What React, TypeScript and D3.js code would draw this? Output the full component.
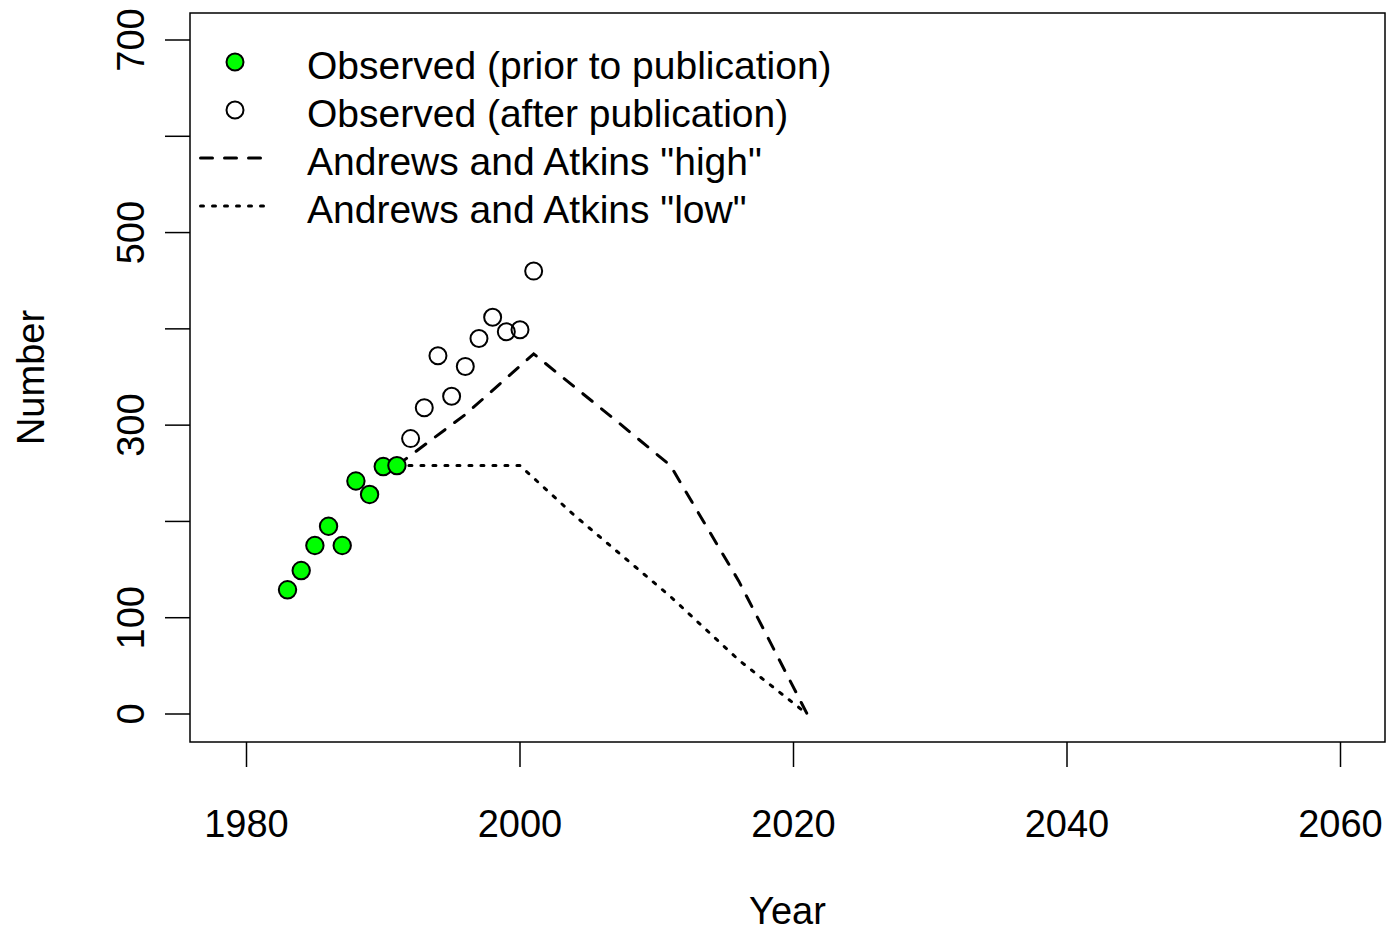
import React from "react";
import * as d3 from "d3";

const priorYears = [1983, 1984, 1985, 1986, 1987, 1988, 1989, 1990, 1991];
const priorValues = [129, 149, 175, 195, 175, 242, 228, 257, 258];

const afterYears = [1992, 1993, 1994, 1995, 1996, 1997, 1998, 1999, 2000, 2001];
const afterValues = [286, 318, 372, 330, 361, 390, 412, 397, 399, 460];

const highYears = [1991, 1996, 2001, 2007, 2011, 2016, 2021];
const highValues = [258, 311, 374, 305, 258, 138, 0];

const lowYears = [1991, 2000, 2004, 2011, 2016, 2021];
const lowValues = [258, 258, 206, 122, 56, 0];

const xTicks = [1980, 2000, 2020, 2040, 2060];
const yTicks = [0, 100, 200, 300, 400, 500, 600, 700];
const yLabels = [0, 100, 300, 500, 700];

const legendItems = [
  { label: "Observed (prior to publication)", kind: "filled" },
  { label: "Observed (after publication)", kind: "open" },
  { label: 'Andrews and Atkins "high"', kind: "dash" },
  { label: 'Andrews and Atkins "low"', kind: "dot" },
];

const W = 1390;
const H = 933;
const box = { left: 190, right: 1385, top: 13, bottom: 742 };
const FONT = "'Liberation Sans', Arial, Helvetica, sans-serif";
const FS = 38;

export default function App() {
  const x = d3.scaleLinear().domain([1980, 2060]).range([246.5, 1340.5]);
  const y = d3.scaleLinear().domain([0, 700]).range([714, 40]);
  const line = d3
    .line<[number, number]>()
    .x((d) => x(d[0]))
    .y((d) => y(d[1]));
  const highPts = highYears.map((yr, i) => [yr, highValues[i]] as [number, number]);
  const lowPts = lowYears.map((yr, i) => [yr, lowValues[i]] as [number, number]);

  const legX0 = 199;
  const legX1 = 271;
  const legSym = 235;
  const legText = 307;
  const legY0 = 62;
  const legStep = 48;

  return (
    <svg width={W} height={H} style={{ display: "block", position: "absolute", left: 0, top: 0 }} fontFamily={FONT}>
      <rect x={0} y={0} width={W} height={H} fill="#fff" />
      {/* box */}
      <rect
        x={box.left}
        y={box.top}
        width={box.right - box.left}
        height={box.bottom - box.top}
        fill="none"
        stroke="#000"
        strokeWidth={1.5}
      />
      {/* x axis */}
      {xTicks.map((t) => (
        <g key={"xt" + t}>
          <line x1={x(t)} x2={x(t)} y1={box.bottom} y2={box.bottom + 25} stroke="#000" strokeWidth={1.5} />
          <text x={x(t)} y={837} fontSize={FS} textAnchor="middle">
            {t}
          </text>
        </g>
      ))}
      {/* y axis */}
      {yTicks.map((t) => (
        <line key={"yt" + t} x1={box.left - 25} x2={box.left} y1={y(t)} y2={y(t)} stroke="#000" strokeWidth={1.5} />
      ))}
      {yLabels.map((t) => (
        <text
          key={"yl" + t}
          transform={`translate(144,${y(t)}) rotate(-90)`}
          fontSize={FS}
          textAnchor="middle"
        >
          {t}
        </text>
      ))}
      <text x={(box.left + box.right) / 2} y={924} fontSize={FS} textAnchor="middle">
        Year
      </text>
      <text transform={`translate(44,${(box.top + box.bottom) / 2}) rotate(-90)`} fontSize={FS} textAnchor="middle">
        Number
      </text>

      {/* lines */}
      <path d={line(highPts) || ""} fill="none" stroke="#000" strokeWidth={3} strokeDasharray="12 12" strokeLinecap="round" />
      <path d={line(lowPts) || ""} fill="none" stroke="#000" strokeWidth={3} strokeDasharray="3 9" strokeLinecap="round" />

      {/* points */}
      {afterYears.map((yr, i) => (
        <circle key={"a" + yr} cx={x(yr)} cy={y(afterValues[i])} r={8.5} fill="none" stroke="#000" strokeWidth={2} />
      ))}
      {priorYears.map((yr, i) => (
        <circle key={"p" + yr} cx={x(yr)} cy={y(priorValues[i])} r={8.7} fill="#00ff00" stroke="#000" strokeWidth={2} />
      ))}

      {/* legend */}
      {legendItems.map((item, i) => {
        const cy = legY0 + i * legStep;
        return (
          <g key={"lg" + i}>
            {item.kind === "filled" && <circle cx={legSym} cy={cy} r={8.5} fill="#00ff00" stroke="#000" strokeWidth={2} />}
            {item.kind === "open" && <circle cx={legSym} cy={cy} r={8.5} fill="none" stroke="#000" strokeWidth={2} />}
            {item.kind === "dash" && (
              <line x1={legX0 + 1.5} x2={legX1 - 1.5} y1={cy} y2={cy} stroke="#000" strokeWidth={3} strokeDasharray="12 12" strokeLinecap="round" />
            )}
            {item.kind === "dot" && (
              <line x1={legX0 + 1.5} x2={legX1} y1={cy} y2={cy} stroke="#000" strokeWidth={3} strokeDasharray="3 9" strokeLinecap="round" />
            )}
            <text x={legText} y={cy + 17} fontSize={39}>
              {item.label}
            </text>
          </g>
        );
      })}
    </svg>
  );
}
